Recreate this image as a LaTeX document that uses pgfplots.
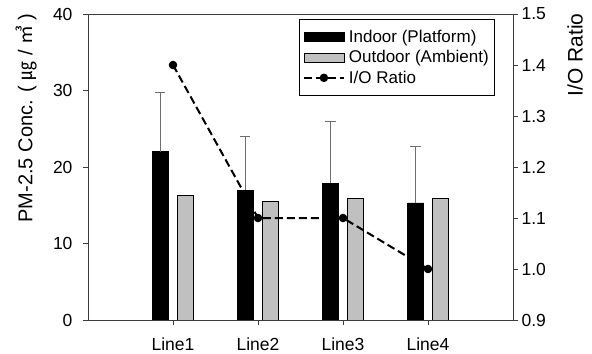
\documentclass[border=0pt]{standalone}
\usepackage{fontspec}
\setmainfont{Liberation Sans}
\newfontfamily\cjk{Noto Sans CJK KR}
\usepackage{pgfplots}
\pgfplotsset{compat=1.18}
\definecolor{axgray}{RGB}{60,60,60}
\definecolor{bargray}{RGB}{192,192,192}
\definecolor{errgray}{RGB}{110,110,110}
\newcommand{\tf}{\fontsize{17.5bp}{20bp}\selectfont}
\newcommand{\gf}{\fontsize{17bp}{20bp}\selectfont}
\newcommand{\lf}{\fontsize{20bp}{23bp}\selectfont}
\newcommand{\rf}{\fontsize{21bp}{24bp}\selectfont}
\pgfplotsset{
  barleg/.style={legend image code/.code={\draw[##1] (0bp,-4.5bp) rectangle (40bp,4.5bp); \path (42bp,0bp);}},
  lineleg/.style={legend image code/.code={\draw[mark repeat=2, mark phase=2, ##1] plot coordinates {(0bp,0bp) (20bp,0bp) (40bp,0bp)}; \path (42bp,0bp);}},
}
\begin{document}
\begin{tikzpicture}
\useasboundingbox (-88bp,-34bp) rectangle (504bp,320bp);
\pgfplotsset{
  base/.style={
    scale only axis, width=425bp, height=306bp,
    xmin=0, xmax=5,
    axis line style={axgray, line width=0.9bp},
    tick style={axgray, line width=0.9bp},
    tick align=outside, major tick length=5bp,
    minor tick num=0,
    /pgf/number format/assume math mode=true,
    tick label style={font=\tf},
  }
}
\begin{axis}[base,
  ymin=0, ymax=40, ytick={0,10,20,30,40},
  xtick={1,2,3,4}, xticklabels={Line1,Line2,Line3,Line4},
  xtick pos=bottom, ytick pos=left,
  yticklabel style={xshift=-7bp},
  xticklabel style={yshift=-9bp},
  ybar=9bp, bar width=16bp,
  ylabel={PM-2.5 Conc. ( {\cjk\fontsize{19bp}{22bp}\selectfont ㎍} / {\cjk\fontsize{19bp}{22bp}\selectfont ㎥} )},
  ylabel style={at={(axis description cs:-0.145,0.66)}, anchor=center, font=\lf},
]
\addplot[fill=black, draw=black, line width=0.8bp,
  error bars/.cd, y dir=plus, y explicit,
  error bar style={errgray, line width=0.9bp},
  error mark options={rotate=90, mark size=5bp, errgray, line width=0.9bp}]
  coordinates {(1,22.0) +- (0,7.7) (2,16.95) +- (0,7.05) (3,17.9) +- (0,8.1) (4,15.3) +- (0,7.4)};
\addplot[fill=bargray, draw=black, line width=0.8bp]
  coordinates {(1,16.25) (2,15.5) (3,15.9) (4,15.9)};
\end{axis}
\begin{axis}[base,
  axis x line=none, axis y line*=right,
  ymin=0.9, ymax=1.5, ytick={0.9,1.0,1.1,1.2,1.3,1.4,1.5},
  yticklabel style={/pgf/number format/.cd, fixed, fixed zerofill, precision=1},
  ylabel={I/O Ratio},
  ylabel style={at={(axis description cs:1.146,0.866)}, anchor=center, font=\rf},
  legend style={at={(axis description cs:0.958,0.984)}, anchor=north east,
    draw=black, line width=0.8bp, font=\gf, inner xsep=4bp, inner ysep=9bp,
    row sep=2.5bp, nodes={inner sep=2bp}},
  legend cell align=left,
]
\addlegendimage{fill=black, draw=black, line width=0.8bp, barleg}
\addlegendentry{Indoor (Platform)}
\addlegendimage{fill=bargray, draw=black, line width=0.8bp, barleg}
\addlegendentry{Outdoor (Ambient)}
\addplot[black, line width=2bp, dash pattern=on 8bp off 4bp, mark=*, mark size=3.2bp, mark options={solid}, lineleg]
  coordinates {(1,1.4) (2,1.1) (3,1.1) (4,1.0)};
\addlegendentry{I/O Ratio}
\end{axis}
\end{tikzpicture}
\end{document}
